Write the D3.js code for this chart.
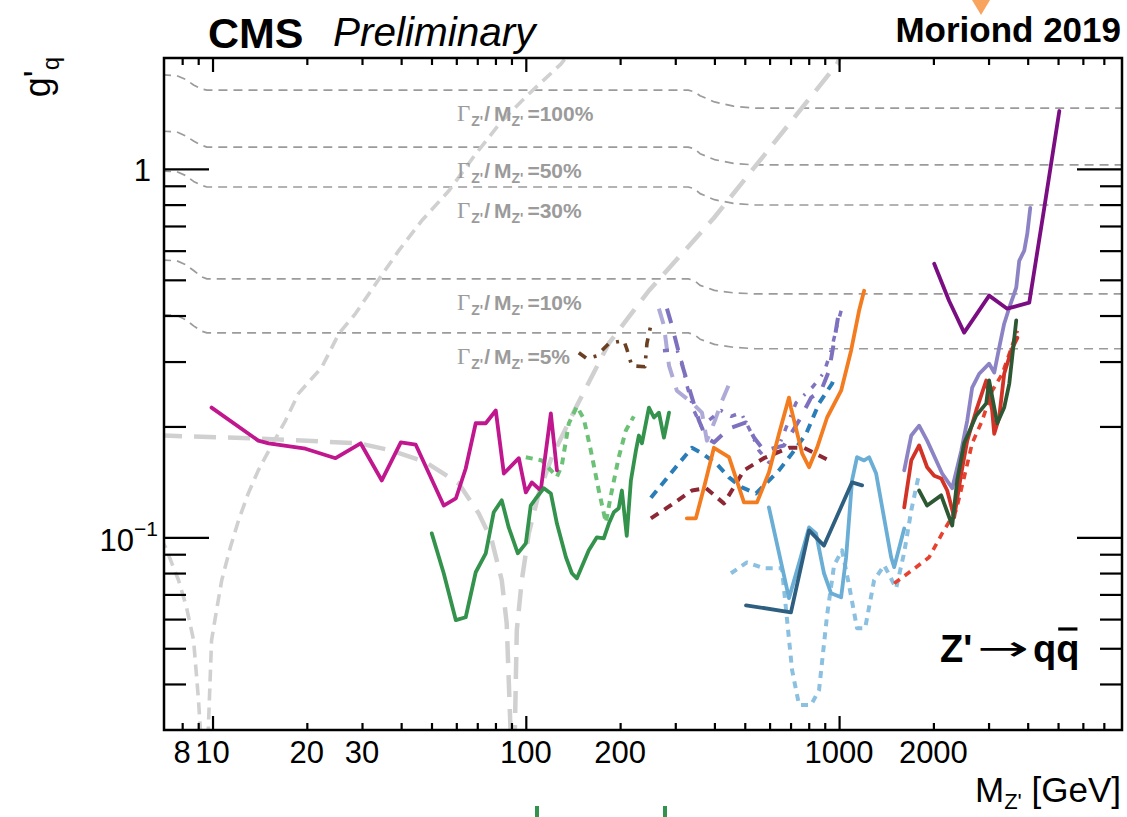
<!DOCTYPE html>
<html><head><meta charset="utf-8">
<script src="https://cdn.jsdelivr.net/npm/d3@7"></script>
<style>
body{margin:0;background:#fff;}
svg{display:block;font-family:"Liberation Sans",Arial,Helvetica,sans-serif;}
</style></head><body>
<svg id="chart" width="1127" height="817"></svg>
<script>
// ---------------- DATA ----------------
const xMajorTicks = [10, 100, 1000];
const xMinorTicks = [8, 9, 20, 30, 40, 50, 60, 70, 80, 90, 200, 300, 400, 500, 600, 700, 800, 900, 2000, 3000, 4000, 5000, 6000, 7000];
const xTickLabels = [8, 10, 20, 30, 100, 200, 1000, 2000];
const yMajorTicks = [0.1, 1];
const yMinorTicks = [0.04, 0.05, 0.06, 0.07, 0.08, 0.09, 0.2, 0.3, 0.4, 0.5, 0.6, 0.7, 0.8, 0.9];

// constant-width contours: masses and coupling values
const widthLabels = ["100%", "50%", "30%", "10%", "5%"];
const widthMass = [6.9, 7.7, 8.2, 8.7, 9.2, 9.6, 330, 345, 360, 400, 460, 540, 8200];
const width100 = [1.80, 1.79, 1.75, 1.69, 1.65, 1.636, 1.636, 1.62, 1.58, 1.52, 1.48, 1.462, 1.462];
const width50  = [1.266, 1.26, 1.23, 1.19, 1.16, 1.146, 1.146, 1.135, 1.10, 1.06, 1.035, 1.025, 1.025];
const width30  = [0.987, 0.982, 0.96, 0.925, 0.903, 0.893, 0.893, 0.884, 0.857, 0.825, 0.806, 0.798, 0.798];
const width10  = [0.566, 0.563, 0.55, 0.53, 0.51, 0.503, 0.503, 0.498, 0.483, 0.468, 0.461, 0.458, 0.458];
const width5   = [0.402, 0.40, 0.39, 0.375, 0.363, 0.359, 0.359, 0.355, 0.345, 0.334, 0.328, 0.325, 0.325];

// indirect constraints (Upsilon and Z widths)
const upsilonCurve = [[6.8,0.1],[7.08,0.094],[7.79,0.0765],[8.26,0.0646],[8.7,0.0526],[9.02,0.0362],[9.3,0.024],
  [9.6,0.024],[9.93,0.0526],[10.3,0.0634],[10.7,0.0765],[11.4,0.094],[12.1,0.111],[13.0,0.1316],[14.0,0.152],
  [15.3,0.175],[17.1,0.2075],[18.8,0.2456],[22.3,0.289],[25.3,0.357],[28.6,0.405],[33.2,0.488],[39.3,0.6],
  [46.5,0.723],[56.8,0.872],[69.2,1.098],[83.8,1.349],[102.2,1.597],[129.4,1.925],[140,2.1]];
const zCurve = [[6.8,0.189],[14.0,0.1855],[29.3,0.18],[37.3,0.172],[47.9,0.16],[61.1,0.14],[70.8,0.116],[77.9,0.098],
  [83.8,0.0765],[86.9,0.0585],[89.5,0.029],[90.5,0.02],[92.0,0.02],[92.2,0.029],[93.6,0.056],[97.1,0.0765],
  [102.2,0.1025],[110,0.1316],[121,0.165],[144.5,0.225],[184,0.336],[247,0.467],[399,0.737],[985,1.925],[1030,2.1]];

// exclusion limits
const magentaSolid = [[9.93,0.225],[14.0,0.183],[15.1,0.18],[19.8,0.174],[24.7,0.164],[29.7,0.18],[34.7,0.1427],[39.9,0.181],
  [44.5,0.1786],[54.7,0.122],[59.8,0.1275],[64.3,0.1538],[69.2,0.204],[74.5,0.204],[80.2,0.221],[85.1,0.149],[95.0,0.164],
  [100,0.1324],[104.5,0.141],[111.6,0.134],[120.2,0.217],[125.7,0.152]];
const greenSolid = [[50.1,0.1025],[54.7,0.0799],[59.8,0.0596],[64.3,0.0607],[69.2,0.0804],[74.5,0.0905],[79.0,0.117],
  [83.8,0.126],[88.2,0.1064],[94.3,0.0905],[100,0.0963],[103.7,0.122],[107.6,0.1275],[114.2,0.136],[120.2,0.1316],
  [125.7,0.109],[134.3,0.0883],[140.3,0.0799],[145.6,0.0774],[158.9,0.0922],[168.6,0.100],[177.4,0.0994],[184.1,0.109],
  [191,0.117],[198,0.12],[202.6,0.134],[210,0.101],[216.5,0.1427],[224.6,0.172],[229.6,0.189],[234.8,0.18],
  [247.2,0.225],[256.5,0.2115],[266,0.218],[276,0.1866],[286.5,0.218]];
const lightGreenDotted = [[100,0.165],[112.5,0.1617],[125.7,0.146],[130.3,0.1567],[137.2,0.204],[145.6,0.2265],
  [153.1,0.21],[161.3,0.172],[171,0.134],[180.1,0.1098],[186.9,0.130],[198,0.165],[208.6,0.195],[221.2,0.213]];
const brownDotted = [[147.6,0.317],[156.6,0.3055],[168.6,0.311],[184.1,0.336],[205.6,0.342],[210,0.325],[218,0.292],
  [240,0.2905],[243.6,0.336],[252.6,0.388]];
const paleLavenderDashed = [[266,0.4175],[276,0.3754],[286.5,0.2925],[303.6,0.25],[339,0.232],[365,0.218],[378.5,0.183],
  [401.5,0.2075],[419.8,0.231],[445.3,0.26]];
const purpleDashed = [[282.2,0.4175],[292.8,0.3754],[312.6,0.3017],[331.7,0.255],[357,0.2075],[376,0.1866],[398.6,0.181],
  [445.3,0.1974],[504.6,0.205],[535,0.1866],[575.9,0.172],[667,0.1776],[745,0.2075],[814,0.2395],[876,0.25],
  [929,0.2835],[971,0.3527],[1000,0.412]];
const purpleDotted = [[274,0.321],[303.6,0.323],[315,0.298],[327,0.258],[344,0.221],[362.5,0.201],[390,0.21],[419.8,0.221],
  [452,0.213],[486,0.218],[523.6,0.1926],[555,0.172],[597,0.1597],[643,0.1776],[729,0.232],[820,0.255],[895,0.28],
  [943,0.321],[985,0.3754],[1015,0.412]];
const blueDashed = [[250.8,0.128],[308.5,0.159],[339,0.175],[365,0.169],[404.6,0.159],[445.3,0.1454],[490,0.1366],
  [543,0.1316],[584.6,0.14],[643,0.152],[708,0.169],[785,0.191],[863,0.231],[950,0.2614],[971,0.275]];
const darkRedDashed = [[250.8,0.1126],[286.5,0.1213],[339,0.134],[376,0.136],[429,0.1236],[497,0.152],[575,0.164],
  [692,0.175],[773,0.175],[929,0.1617]];
const orangeSolid = [[326.6,0.1126],[349,0.1126],[370.5,0.1366],[398.6,0.175],[445.3,0.165],[497,0.1244],[547,0.1244],
  [597,0.15],[643,0.191],[692,0.2395],[702,0.225],[762,0.169],[802,0.155],[850.6,0.175],[915.6,0.2115],[1015,0.25],
  [1092,0.321],[1158,0.412],[1202,0.467]];
const lightBlueSolid = [[597,0.1206],[692,0.0684],[745,0.085],[802,0.1064],[844,0.1025],[895,0.0799],[943,0.0705],
  [1015,0.0688],[1053,0.0883],[1100,0.1427],[1141,0.165],[1202,0.1617],[1247,0.165],[1313,0.149],[1466,0.0883],
  [1499,0.083],[1614,0.1057]];
const slateSolid = [[504.6,0.0654],[702,0.0626],[802,0.1045],[895,0.095],[1100,0.141],[1184,0.1384]];
const lightBlueDotted = [[451.9,0.0799],[508,0.0855],[575,0.0824],[657,0.0824],[708,0.0436],[745,0.0351],[814,0.0351],
  [863,0.0385],[915.6,0.0615],[964,0.084],[1022,0.0922],[1076,0.0741],[1141,0.0567],[1211,0.0567],[1294,0.0765],
  [1393,0.084],[1521,0.0727],[1614,0.091],[1700,0.1184],[1801,0.149]];
const redDotted = [[1499,0.075],[1710,0.0814],[1939,0.0883],[2133,0.1025],[2364,0.1184],[2507,0.1454],[2660,0.18],
  [2863,0.2075],[3081,0.25],[3318,0.278],[3494,0.315],[3707,0.364]];
const redSolid = [[1614,0.1206],[1700,0.1617],[1801,0.1776],[1910,0.155],[2012,0.147],[2118,0.1445],[2214,0.134],
  [2330,0.1133],[2455,0.149],[2565,0.183],[2740,0.221],[2949,0.2665],[3081,0.221],[3128,0.191],[3243,0.2115],
  [3365,0.278],[3544,0.321],[3707,0.348]];
const lavenderSolid = [[1614,0.152],[1700,0.189],[1801,0.201],[1910,0.183],[2042,0.1617],[2133,0.149],[2297,0.136],
  [2455,0.172],[2565,0.2075],[2660,0.255],[2801,0.278],[3013,0.296],[3128,0.28],[3243,0.327],[3365,0.38],[3494,0.42],
  [3677,0.476],[3758,0.563],[3900,0.6],[3988,0.667],[4076,0.784]];
const darkGreenSolid = [[1801,0.134],[1910,0.122],[2118,0.130],[2297,0.1077],[2382,0.1427],[2507,0.18],[2740,0.214],
  [2949,0.231],[3013,0.2665],[3197,0.204],[3365,0.225],[3494,0.2615],[3677,0.388]];
const purpleSolid = [[2012,0.553],[2244,0.4386],[2507,0.3594],[3013,0.453],[3441,0.4175],[4046,0.4335],[4518,0.784],[5047,1.436]];

// ---------------- DRAWING ----------------
const svg = d3.select('#chart');
const frame = {l:164, r:1122, t:58, b:730};
const x = d3.scaleLog().domain([7, 8000]).range([frame.l, frame.r]);
const y = d3.scaleLog().domain([0.03, 2]).range([frame.b, frame.t]);

svg.append('rect').attr('width',1127).attr('height',817).attr('fill','#fff');
svg.append('defs').append('clipPath').attr('id','clip').append('rect')
  .attr('x',frame.l).attr('y',frame.t).attr('width',frame.r-frame.l).attr('height',frame.b-frame.t);
const plot = svg.append('g').attr('clip-path','url(#clip)');
const line = d3.line().x(d => x(d[0])).y(d => y(d[1]));

function draw(data, color, w, dash, cap) {
  plot.append('path').datum(data).attr('d', line).attr('fill','none')
    .attr('stroke', color).attr('stroke-width', w)
    .attr('stroke-dasharray', dash || null)
    .attr('stroke-linejoin','round').attr('stroke-linecap', cap || (dash ? 'butt' : 'round'));
}

// width contours
const widthSets = [width100, width50, width30, width10, width5];
widthSets.forEach(vals => draw(d3.zip(widthMass, vals), '#9b9b9b', 1.7, '9,6'));

// gray indirect constraints
draw(upsilonCurve, '#d0d0d0', 3.6, '12,7');
draw(zCurve, '#d0d0d0', 4.5, '22,12');

// dashed / dotted limits
draw(lightGreenDotted, '#6cc177', 4, '7,6');
draw(brownDotted, '#6b3f22', 3.6, '9,8,3,8');
draw(paleLavenderDashed, '#aeaad8', 4, '16,11');
draw(purpleDashed, '#7d70bf', 4, '15,13');
draw(purpleDotted, '#8073c0', 3.5, '6,9,2,9');
draw(blueDashed, '#2b7db7', 4, '9,7');
draw(darkRedDashed, '#8c2833', 4, '9,7');
draw(lightBlueDotted, '#8bc0e0', 4, '7,6');
draw(redDotted, '#e7412f', 3.6, '7,6');

// solid limits
draw(magentaSolid, '#c0168e', 3.8);
draw(greenSolid, '#33924b', 3.8);
draw(orangeSolid, '#f27c1f', 3.8);
draw(lightBlueSolid, '#6aadd5', 3.8);
draw(slateSolid, '#2e5f80', 3.8);
draw(lavenderSolid, '#8c83c4', 3.8);
draw(redSolid, '#d33327', 3.8);
draw(darkGreenSolid, '#2e5834', 3.8);
draw(purpleSolid, '#7b0d82', 3.8);

// width labels
const labelG = svg.append('g').attr('fill','#9b9b9b').attr('font-weight','bold').attr('font-size',21);
widthSets.forEach((vals, i) => {
  const t = labelG.append('text').attr('x', 457).attr('y', y(vals[5]) + 31);
  t.append('tspan').attr('font-family','"Liberation Serif",serif').attr('font-weight','normal').attr('font-size',23).text('Γ');
  t.append('tspan').attr('font-size',14).attr('dy',5).attr('dx',1).text("Z'");
  t.append('tspan').attr('dy',-5).attr('dx',1).text('/');
  t.append('tspan').attr('dx',4).text('M');
  t.append('tspan').attr('font-size',14).attr('dy',5).text("Z'");
  t.append('tspan').attr('dy',-5).attr('dx',4).text('=' + widthLabels[i]);
});

// frame
svg.append('rect').attr('x',frame.l).attr('y',frame.t).attr('width',frame.r-frame.l).attr('height',frame.b-frame.t)
  .attr('fill','none').attr('stroke','#000').attr('stroke-width',2.5);

function ticks(axisGen, vals, size, tx, ty) {
  const g = svg.append('g').attr('transform', `translate(${tx},${ty})`)
    .call(axisGen.tickValues(vals).tickSize(size).tickFormat(''));
  g.select('.domain').remove();
  g.selectAll('line').attr('stroke','#000').attr('stroke-width',2.2);
}
ticks(d3.axisTop(x), xMajorTicks, 14, 0, frame.b);
ticks(d3.axisTop(x), xMinorTicks, 7, 0, frame.b);
ticks(d3.axisBottom(x), xMajorTicks, 14, 0, frame.t);
ticks(d3.axisBottom(x), xMinorTicks, 7, 0, frame.t);
ticks(d3.axisRight(y), yMajorTicks, 45, frame.l, 0);
ticks(d3.axisRight(y), yMinorTicks, 22, frame.l, 0);
ticks(d3.axisLeft(y), yMajorTicks, 45, frame.r, 0);
ticks(d3.axisLeft(y), yMinorTicks, 22, frame.r, 0);

// x tick labels
svg.append('g').selectAll('text').data(xTickLabels).join('text')
  .attr('x', d => x(d)).attr('y', 763).attr('text-anchor','middle')
  .attr('font-size',31).attr('fill','#000').text(d => d);

// y tick labels
svg.append('text').attr('x',151).attr('y', y(1) + 12).attr('text-anchor','end').attr('font-size',31).text('1');
const yl = svg.append('text').attr('x',158).attr('y', y(0.1) + 14).attr('text-anchor','end').attr('font-size',31);
yl.append('tspan').text('10');
yl.append('tspan').attr('font-size',21).attr('dy',-15).text('−1');

// axis titles
const xt = svg.append('text').attr('x',1121).attr('y',802).attr('text-anchor','end').attr('font-size',35);
xt.append('tspan').text('M');
xt.append('tspan').attr('font-size',22).attr('dy',7).text("Z'");
xt.append('tspan').attr('dy',-7).text(' [GeV]');

const ytl = svg.append('text').attr('transform','translate(50,57) rotate(-90)').attr('text-anchor','end').attr('font-size',36);
ytl.append('tspan').text("g'");
ytl.append('tspan').attr('font-size',24).attr('dy',9).text('q');

// header
svg.append('text').attr('x',208).attr('y',48).attr('font-size',43).attr('font-weight','bold').text('CMS');
svg.append('text').attr('x',333).attr('y',46).attr('font-size',40.5).attr('font-style','italic').text('Preliminary');
svg.append('text').attr('x',1121).attr('y',42).attr('text-anchor','end').attr('font-size',35).attr('font-weight','bold').text('Moriond 2019');

// process label Z' -> q qbar
svg.append('text').attr('x',940).attr('y',662).attr('font-size',38).attr('font-weight','bold').text("Z'");
svg.append('text').attr('x',977).attr('y',660).attr('font-size',34).attr('textLength',52)
  .attr('lengthAdjust','spacingAndGlyphs').attr('font-family','"DejaVu Sans",sans-serif').text('→');
const qq = svg.append('text').attr('x',1033).attr('y',662).attr('font-size',38).attr('font-weight','bold').text('qq');
const q2 = qq.node().getExtentOfChar(1);
svg.append('line').attr('x1',q2.x+2).attr('x2',q2.x+q2.width-2).attr('y1',629).attr('y2',629)
  .attr('stroke','#000').attr('stroke-width',3.2);

// cropped neighbouring marks at the edges of the picture
svg.append('path').attr('d','M972,0 L990,0 L981,15 Z').attr('fill','#f8a45e');
svg.append('line').attr('x1',537).attr('x2',537).attr('y1',806).attr('y2',817).attr('stroke','#33924b').attr('stroke-width',4);
svg.append('line').attr('x1',665).attr('x2',665).attr('y1',806).attr('y2',817).attr('stroke','#33924b').attr('stroke-width',4);
</script>
</body></html>
